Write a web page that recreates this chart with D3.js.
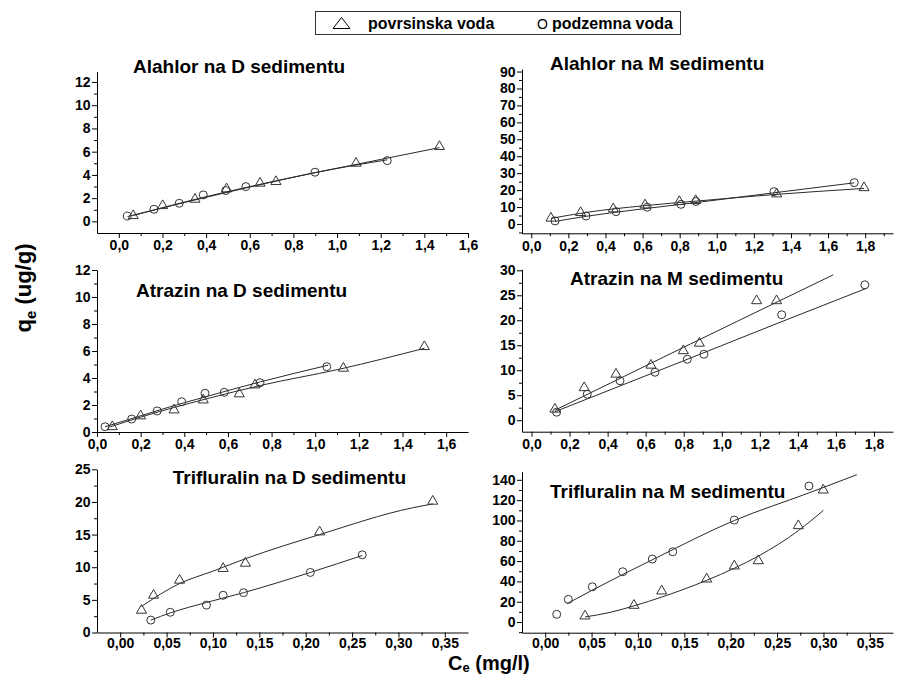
<!DOCTYPE html>
<html><head><meta charset="utf-8">
<script src="https://cdn.jsdelivr.net/npm/d3@7"></script>
<style>
html,body{margin:0;padding:0;background:#fff;}
svg{display:block;font-family:"Liberation Sans",Arial,Helvetica,sans-serif;}
</style></head><body>
<svg id="chart" width="905" height="675"></svg>
<script>
// ---------------- DATA ----------------
const titles = ["Alahlor na D sedimentu","Alahlor na M sedimentu","Atrazin na D sedimentu",
                "Atrazin na M sedimentu","Trifluralin na D sedimentu","Trifluralin na M sedimentu"];
const legendLabels = ["povrsinska voda","podzemna voda"];
const yAxisTitle = ["q","e"," (ug/g)"];
const xAxisTitle = ["C","e"," (mg/l)"];

// Alahlor na D sedimentu  [Ce, qe]
const alahlorD_pov    = [[0.066,0.49],[0.201,1.35],[0.349,1.90],[0.494,2.79],[0.647,3.28],[0.720,3.42],[1.087,5.00],[1.469,6.44]];
const alahlorD_pod    = [[0.039,0.46],[0.161,1.04],[0.277,1.56],[0.387,2.28],[0.490,2.65],[0.582,2.99],[0.899,4.23],[1.230,5.23]];
const alahlorD_povFit = [[0.066,0.50],[0.35,1.90],[0.65,3.20],[0.90,4.20],[1.10,4.95],[1.469,6.35]];
const alahlorD_podFit = [[0.040,0.42],[0.30,1.62],[0.60,2.95],[0.90,4.20],[1.230,5.30]];

// Alahlor na M sedimentu
const alahlorM_pov    = [[0.106,3.4],[0.266,6.7],[0.442,8.9],[0.613,11.2],[0.798,13.2],[0.886,13.8],[1.323,17.7],[1.794,21.4]];
const alahlorM_pod    = [[0.128,1.8],[0.295,4.7],[0.457,7.3],[0.625,9.9],[0.807,11.6],[0.888,13.3],[1.308,19.1],[1.741,24.4]];
const alahlorM_povFit = [[0.106,3.3],[0.3,6.9],[0.6,10.7],[0.9,13.6],[1.3,17.3],[1.794,21.0]];
const alahlorM_podFit = [[0.128,1.5],[0.3,4.6],[0.6,8.9],[0.9,12.8],[1.3,18.3],[1.741,24.3]];

// Atrazin na D sedimentu
const atrazinD_pov    = [[0.070,0.39],[0.200,1.19],[0.353,1.63],[0.487,2.37],[0.652,2.82],[0.724,3.48],[1.129,4.72],[1.500,6.32]];
const atrazinD_pod    = [[0.037,0.39],[0.159,0.96],[0.276,1.56],[0.388,2.24],[0.495,2.87],[0.583,2.94],[0.747,3.65],[1.053,4.84]];
const atrazinD_povFit = [[0.06,0.38],[0.2,1.1],[0.5,2.45],[0.75,3.45],[1.11,4.65],[1.5,6.2]];
const atrazinD_podFit = [[0.037,0.39],[0.16,1.0],[0.3,1.7],[0.5,2.62],[0.75,3.72],[1.06,4.95]];

// Atrazin na M sedimentu
const atrazinM_pov    = [[0.123,2.2],[0.277,6.5],[0.444,9.2],[0.628,11.0],[0.798,13.9],[0.882,15.4],[1.183,23.9],[1.288,23.9]];
const atrazinM_pod    = [[0.132,1.6],[0.293,5.2],[0.465,7.9],[0.649,9.6],[0.819,12.2],[0.906,13.2],[1.315,21.1],[1.752,27.1]];
const atrazinM_povFit = [[0.123,2.0],[0.8,14.6],[1.586,29.1]];
const atrazinM_podFit = [[0.123,1.7],[0.8,11.9],[1.3,19.5],[1.761,26.4]];

// Trifluralin na D sedimentu
const trifD_pov    = [[0.023,3.4],[0.036,5.7],[0.064,8.0],[0.111,9.8],[0.135,10.6],[0.215,15.4],[0.337,20.1]];
const trifD_pod    = [[0.033,1.9],[0.054,3.1],[0.093,4.2],[0.111,5.7],[0.133,6.1],[0.205,9.2],[0.261,11.9]];
const trifD_povFit = [[0.023,4.0],[0.064,7.5],[0.100,9.4],[0.135,11.3],[0.215,15.0],[0.315,19.1],[0.337,19.7]];
const trifD_podFit = [[0.033,1.9],[0.054,3.0],[0.093,4.6],[0.133,6.1],[0.205,9.2],[0.261,11.8]];

// Trifluralin na M sedimentu
const trifM_pov    = [[0.0429,5.9],[0.0957,16.4],[0.1256,30.5],[0.1741,42.3],[0.2039,55.1],[0.2298,60.3],[0.2729,94.8],[0.2998,129.9]];
const trifM_pod    = [[0.0124,7.6],[0.0249,22.3],[0.0508,34.7],[0.0836,49.5],[0.1155,62.0],[0.1375,69.2],[0.2039,100.4],[0.2844,133.9]];
const trifM_povFit = [[0.043,5],[0.07,9.5],[0.096,16],[0.127,25],[0.174,41],[0.204,53],[0.23,65],[0.273,90],[0.30,110]];
const trifM_podFit = [[0.0234,18],[0.05,31],[0.084,47],[0.116,61.5],[0.204,100],[0.284,127],[0.336,145]];

// Tick values
const xTicksD1 = [0,0.2,0.4,0.6,0.8,1.0,1.2,1.4,1.6];
const xTicksM  = [0,0.2,0.4,0.6,0.8,1.0,1.2,1.4,1.6,1.8];
const xTicksT  = [0,0.05,0.10,0.15,0.20,0.25,0.30,0.35];
const yTicksAD = [0,2,4,6,8,10,12];
const yTicksAM = [0,10,20,30,40,50,60,70,80,90];
const yTicksZM = [0,5,10,15,20,25,30];
const yTicksTD = [0,5,10,15,20,25];
const yTicksTM = [0,20,40,60,80,100,120,140];

// Axis domains
const domAlahlorD = {x:[-0.1,1.6],   y:[-1,12.9]};
const domAlahlorM = {x:[-0.05,1.95], y:[-5.5,91.5]};
const domAtrazinD = {x:[0,1.7],      y:[0,12]};
const domAtrazinM = {x:[-0.05,1.9],  y:[-2.3,30.2]};
const domTrifD    = {x:[-0.025,0.375], y:[0,25]};
const domTrifM    = {x:[-0.025,0.375], y:[-10.5,148]};

// ---------------- DRAWING ----------------
const svg = d3.select("#chart");
svg.append("rect").attr("width",905).attr("height",675).attr("fill","#fff");

const fmt1 = v => d3.format(".1f")(v).replace(".", ",");
const fmt2 = v => d3.format(".2f")(v).replace(".", ",");
const fmt0 = v => d3.format("d")(v);

const panels = [
  {title:titles[0], pov:alahlorD_pov, pod:alahlorD_pod, povFit:alahlorD_povFit, podFit:alahlorD_podFit,
   dom:domAlahlorD, xT:xTicksD1, yT:yTicksAD, xF:fmt1, pad:2.5,
   L:97, R:468, T:71.5, B:233, tx:133, ty:73},
  {title:titles[1], pov:alahlorM_pov, pod:alahlorM_pod, povFit:alahlorM_povFit, podFit:alahlorM_podFit,
   dom:domAlahlorM, xT:xTicksM, yT:yTicksAM, xF:fmt1, pad:2.5,
   L:522, R:893, T:69, B:233.3, tx:550, ty:69.5},
  {title:titles[2], pov:atrazinD_pov, pod:atrazinD_pod, povFit:atrazinD_povFit, podFit:atrazinD_podFit,
   dom:domAtrazinD, xT:xTicksD1, yT:yTicksAD, xF:fmt1, pad:2.5,
   L:97, R:468, T:270, B:432, tx:136, ty:296.7},
  {title:titles[3], pov:atrazinM_pov, pod:atrazinM_pod, povFit:atrazinM_povFit, podFit:atrazinM_podFit,
   dom:domAtrazinM, xT:xTicksM, yT:yTicksZM, xF:fmt1, pad:2.5,
   L:522, R:893, T:269.3, B:431.7, tx:570, ty:285},
  {title:titles[4], pov:trifD_pov, pod:trifD_pod, povFit:trifD_povFit, podFit:trifD_podFit,
   dom:domTrifD, xT:xTicksT, yT:yTicksTD, xF:fmt2, pad:0.5,
   L:97, R:468, T:469.3, B:632.5, tx:172.7, ty:484.3},
  {title:titles[5], pov:trifM_pov, pod:trifM_pod, povFit:trifM_povFit, podFit:trifM_podFit,
   dom:domTrifM, xT:xTicksT, yT:yTicksTM, xF:fmt2, pad:0.5,
   L:522, R:893, T:471.7, B:632.7, tx:550, ty:498.3}
];

function minorTicks(ticks, domain){
  const step = ticks[1]-ticks[0];
  const out = [];
  const lo = Math.min(domain[0],domain[1]), hi = Math.max(domain[0],domain[1]);
  for (let i=-1;i<ticks.length;i++){
    const v = ticks[0] + (i+0.5)*step;
    if (v > lo + 1e-9 && v < hi - 1e-9) out.push(v);
  }
  return out;
}

function styleAxis(sel){
  sel.attr("font-family",null).attr("font-size",null);
  sel.select("path.domain").attr("stroke","#000").attr("stroke-width",1);
  sel.selectAll(".tick line").attr("stroke","#000").attr("stroke-width",1);
  sel.selectAll(".tick text").attr("fill","#000").style("font-size","14px").style("font-weight","bold");
}

const ink = "#2a2a2a";

panels.forEach(p => {
  const x = d3.scaleLinear().domain(p.dom.x).range([p.L, p.R]);
  const y = d3.scaleLinear().domain(p.dom.y).range([p.B, p.T]);
  const g = svg.append("g");

  // minor ticks
  g.append("g").attr("transform",`translate(0,${p.B})`)
    .call(d3.axisBottom(x).tickValues(minorTicks(p.xT,p.dom.x)).tickFormat("").tickSize(3).tickSizeOuter(0))
    .call(s=>{s.select("path.domain").remove(); s.selectAll("line").attr("stroke","#000");});
  g.append("g").attr("transform",`translate(${p.L},0)`)
    .call(d3.axisLeft(y).tickValues(minorTicks(p.yT,p.dom.y)).tickFormat("").tickSize(3).tickSizeOuter(0))
    .call(s=>{s.select("path.domain").remove(); s.selectAll("line").attr("stroke","#000");});

  // major axes
  g.append("g").attr("transform",`translate(0,${p.B})`)
    .call(d3.axisBottom(x).tickValues(p.xT).tickFormat(p.xF).tickSize(5).tickSizeOuter(0).tickPadding(p.pad))
    .call(styleAxis);
  g.append("g").attr("transform",`translate(${p.L},0)`)
    .call(d3.axisLeft(y).tickValues(p.yT).tickFormat(fmt0).tickSize(5).tickSizeOuter(0).tickPadding(1.5))
    .call(styleAxis);

  // fitted lines
  const line = d3.line().x(d=>x(d[0])).y(d=>y(d[1])).curve(d3.curveMonotoneX);
  [p.povFit, p.podFit].forEach(fit => {
    g.append("path").datum(fit).attr("d",line)
      .attr("fill","none").attr("stroke",ink).attr("stroke-width",1);
  });

  // markers
  const tri = d3.symbol().type(d3.symbolTriangle).size(44);
  g.append("g").selectAll("path").data(p.pov).join("path")
    .attr("d",tri)
    .attr("transform",d=>`translate(${x(d[0])},${y(d[1])})`)
    .attr("fill","none").attr("stroke","#333").attr("stroke-width",1);
  g.append("g").selectAll("circle").data(p.pod).join("circle")
    .attr("cx",d=>x(d[0])).attr("cy",d=>y(d[1])).attr("r",4)
    .attr("fill","none").attr("stroke","#333").attr("stroke-width",1);

  // title
  g.append("text").attr("x",p.tx).attr("y",p.ty)
    .style("font-size","19px").style("font-weight","bold").attr("fill","#000")
    .text(p.title);
});

// legend
const lg = svg.append("g");
lg.append("rect").attr("x",315.5).attr("y",11.5).attr("width",365).attr("height",23)
  .attr("fill","#fff").attr("stroke","#333").attr("stroke-width",1);
const lp = d3.path();
lp.moveTo(333,28.5); lp.lineTo(350,28.5); lp.lineTo(341.5,17.5); lp.closePath();
lg.append("path").attr("d",lp.toString()).attr("fill","none").attr("stroke","#000").attr("stroke-width",1);
lg.append("text").attr("x",368).attr("y",28.5).style("font-size","16px").style("font-weight","bold")
  .text(legendLabels[0]);
lg.append("text").attr("x",537).attr("y",28.5).style("font-size","14px").style("font-weight","normal")
  .text("O");
lg.append("text").attr("x",552).attr("y",28.5).style("font-size","16px").style("font-weight","bold")
  .text(legendLabels[1]);

// y-axis title
const yt = svg.append("text").attr("transform","translate(31,288) rotate(-90)")
  .attr("text-anchor","middle").style("font-size","22px").style("font-weight","bold");
yt.append("tspan").text(yAxisTitle[0]);
yt.append("tspan").attr("dy",5).style("font-size","15px").text(yAxisTitle[1]);
yt.append("tspan").attr("dy",-5).text(yAxisTitle[2]);

// x-axis title
const xt = svg.append("text").attr("x",448).attr("y",669.5)
  .style("font-size","20px").style("font-weight","bold");
xt.append("tspan").text(xAxisTitle[0]);
xt.append("tspan").attr("dy",2).style("font-size","13px").text(xAxisTitle[1]);
xt.append("tspan").attr("dy",-2).text(xAxisTitle[2]);
</script>
</body></html>
